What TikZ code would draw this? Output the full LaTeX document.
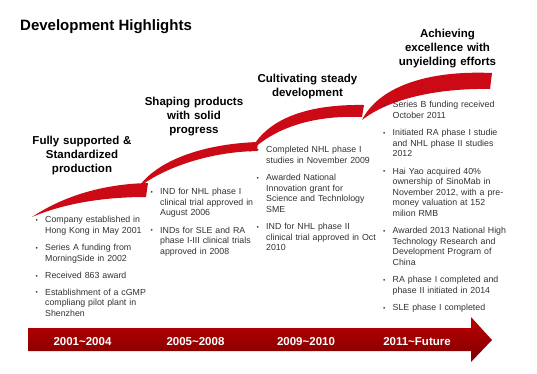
\documentclass[tikz,border=0pt]{standalone}
\usepackage{fontspec}
\setmainfont{Liberation Sans}
\usepackage{tikz}
\usetikzlibrary{positioning}
\definecolor{swooshred}{RGB}{204,10,22}
\definecolor{arrowred}{RGB}{178,0,0}
\definecolor{bodygray}{RGB}{50,50,50}
\tikzset{phase/.style={text width=140pt,align=center,anchor=base,inner sep=0pt,
                       font=\fontsize{11.5}{14}\selectfont\bfseries}}
\tikzset{facts/.style={text width=130pt,anchor=base west,inner sep=0pt,text=bodygray,
                       font=\fontsize{8.8}{10.5}\selectfont}}
\newcommand{\hlitem}[1]{\noindent\makebox[9.5pt][l]{\raisebox{0.5pt}{\fontsize{6.5}{6.5}\selectfont\textbullet}}%
  \begin{tabular}[t]{@{}l@{}}#1\end{tabular}\par}
\newcommand{\itemgap}{\vspace{6pt}}

\begin{document}
\begin{tikzpicture}[x=1pt,y=-1pt]
    \tikzstyle{swoosh}=[fill=swooshred]
    \tikzstyle{timeline}=[top color=arrowred!85!red,middle color=arrowred,bottom color=arrowred!70!black]
    \tikzstyle{period}=[anchor=base,inner sep=0pt,text=white,font=\fontsize{11.5}{13}\selectfont\bfseries]
    \useasboundingbox (0,0) rectangle (537,373);

    % Title
    \node[anchor=base west,inner sep=0pt,font=\fontsize{15}{18}\selectfont\bfseries] (title) at (20,30) {Development Highlights};

    % Draw the swooshes, one per stage
    \fill[swoosh] (32,217) .. controls (65,195) and (105,184) .. (148,183)
        -- (146,197) .. controls (105,197) and (65,203) .. (32,217) -- cycle;
    \fill[swoosh] (138,188) .. controls (155,162) and (200,144) .. (258,142)
        -- (257,151) .. controls (205,152) and (160,170) .. (138,188) -- cycle;
    \fill[swoosh] (250,152) .. controls (265,120) and (305,104) .. (364,105)
        -- (362,117) .. controls (315,115) and (275,127) .. (250,152) -- cycle;
    \fill[swoosh] (362,120) .. controls (378,88) and (425,70) .. (492,73)
        -- (490,89) .. controls (440,88) and (390,98) .. (362,120) -- cycle;

    % Draw the time line
    \shade[timeline] (28,328) -- (471,328) -- (471,317) -- (492,340)
        -- (471,362) -- (471,351) -- (28,351) -- cycle;
    \foreach \name / \x / \years in {p1/82.5/2001\textasciitilde2004,p2/195.5/2005\textasciitilde2008,
                                    p3/306/2009\textasciitilde2010,p4/417/2011\textasciitilde Future}
        \node[period] (\name) at (\x,345.5) {\years};

    % Stage headings
    \node[phase] (h1) at (82,144) {Fully supported \&\\Standardized\\production};
    \node[phase] (h2) at (194,105) {Shaping products\\with solid\\progress};
    \node[phase] (h3) at (307.5,82) {Cultivating steady\\development};
    \node[phase] (h4) at (447.5,37) {Achieving\\excellence with\\unyielding efforts};

    % Bullet lists under each stage
    \node[facts] (f1) at (35.5,222.5) {%
        \hlitem{Company established in\\Hong Kong in May 2001}\itemgap
        \hlitem{Series A funding from\\MorningSide in 2002}\itemgap
        \hlitem{Received 863 award}\itemgap
        \hlitem{Establishment of a cGMP\\compliang pilot plant in\\Shenzhen}};
    \node[facts] (f2) at (150.5,194.5) {%
        \hlitem{IND for NHL phase I\\clinical trial approved in\\August 2006}\itemgap
        \hlitem{INDs for SLE and RA\\phase I-III clinical trials\\approved in 2008}};
    \node[facts] (f3) at (256.5,152.5) {%
        \hlitem{Completed NHL phase I\\studies in November 2009}\itemgap
        \hlitem{Awarded National\\Innovation grant for\\Science and Technlology\\SME}\itemgap
        \hlitem{IND for NHL phase II\\clinical trial approved in Oct\\2010}};
    \node[facts] (f4) at (383,107.5) {%
        \hlitem{Series B funding received\\October 2011}\itemgap
        \hlitem{Initiated RA phase I studie\\and NHL phase II studies\\2012}\itemgap
        \hlitem{Hai Yao acquired 40\%\\ownership of SinoMab in\\November 2012, with a pre-\\money valuation at 152\\milion RMB}\itemgap
        \hlitem{Awarded 2013 National High\\Technology Research and\\Development Program of\\China}\itemgap
        \hlitem{RA phase I completed and\\phase II initiated in 2014}\itemgap
        \hlitem{SLE phase I completed}};
\end{tikzpicture}
\end{document}
